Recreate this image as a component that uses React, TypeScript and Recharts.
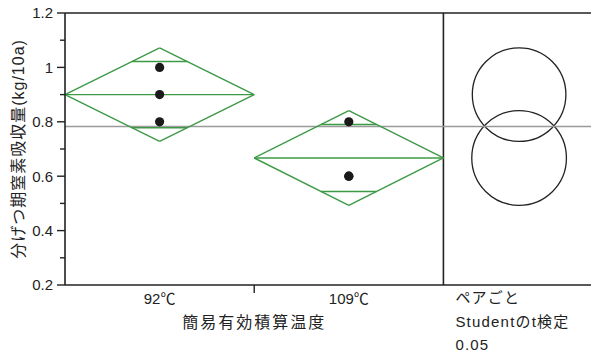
import React from 'react'
import { ComposedChart, XAxis, YAxis, Scatter, ReferenceLine, ReferenceArea } from 'recharts'

const FONT = "'Liberation Sans', 'Noto Sans CJK JP', sans-serif"
const INK = '#222'
const GREEN = '#3c9a46'
const MEAN_GREY = '#9a9a9a'

// groups and their statistics
const groups = ['92℃', '109℃']
const groupMeans = [0.9, 0.667]
const ciHalfWidths = [0.172, 0.174]
const observations = [
  [1.0, 0.9, 0.8],
  [0.8, 0.6, 0.6],
]
const grandMean = 0.783

const yTicks = [0.2, 0.3, 0.4, 0.5, 0.6, 0.7, 0.8, 0.9, 1.0, 1.1, 1.2]
const xTicks = [0.5, 1, 1.5]
const testNotes = ['ペアごと', 'Studentのt検定', '0.05']

// x runs 0..2 for the two groups, the rest is the comparison-circle panel
const X_MAX = 2.78
const CIRCLE_X = 2.4

const points = observations.flatMap((vals, i) => vals.map((v) => ({ x: i + 0.5, y: v })))

function YTick({ x, y, payload }: any) {
  const v = payload.value as number
  const major = Math.round(v * 10) % 2 === 0
  const axisX = x + 12
  return (
    <g>
      <line x1={axisX - (major ? 8 : 5)} x2={axisX} y1={y} y2={y} stroke={INK} strokeWidth={1.4} />
      {major && (
        <text x={x} y={y} dy="0.36em" textAnchor="end" fontSize={15} fill={INK} fontFamily={FONT}>
          {Math.abs(v - 1) < 1e-9 ? '1' : v.toFixed(1)}
        </text>
      )}
    </g>
  )
}

function XTick({ x, y, payload }: any) {
  const v = payload.value as number
  if (Number.isInteger(v)) {
    return <line x1={x} x2={x} y1={y - 11} y2={y - 3} stroke={INK} strokeWidth={1.4} />
  }
  return (
    <text x={x} y={y + 3} dy="0.36em" textAnchor="middle" fontSize={15} fill={INK} fontFamily={FONT}>
      {groups[Math.floor(v)]}
    </text>
  )
}

function XTitle({ viewBox }: any) {
  const { x, y, width } = viewBox
  const unit = width / X_MAX
  return (
    <g fontFamily={FONT} fill={INK}>
      <text x={x + unit} y={y + 37} dy="0.36em" textAnchor="middle" fontSize={16} letterSpacing={2}>
        簡易有効積算温度
      </text>
      {testNotes.map((t, i) => (
        <text key={t} x={x + unit * 2 + 12} y={y + 13 + i * 23.5} dy="0.36em" fontSize={15} letterSpacing={1.2}>
          {t}
        </text>
      ))}
    </g>
  )
}

function YTitle({ viewBox }: any) {
  const { y, height } = viewBox
  const cx = 18
  const cy = y + height / 2
  return (
    <text
      x={cx}
      y={cy}
      dy="0.36em"
      textAnchor="middle"
      transform={`rotate(-90, ${cx}, ${cy})`}
      fontSize={16}
      letterSpacing={1}
      fill={INK}
      fontFamily={FONT}
    >
      分げつ期窒素吸収量(kg/10a)
    </text>
  )
}

function ComparisonCircle({ x, y, width, height }: any) {
  return <circle cx={x + width / 2} cy={y + height / 2} r={height / 2} fill="none" stroke={INK} strokeWidth={1.3} />
}

function Dot({ cx, cy }: any) {
  return <circle cx={cx} cy={cy} r={4.6} fill="#1a1a1a" />
}

// means diamond: CI vertices, mean line and overlap marks at mean ± half/√2
function diamondSegments(i: number) {
  const m = groupMeans[i]
  const h = ciHalfWidths[i]
  const c = i + 0.5
  const o = h / Math.SQRT2
  const w = 0.5 * (1 - o / h)
  return [
    [{ x: i, y: m }, { x: c, y: m + h }],
    [{ x: c, y: m + h }, { x: i + 1, y: m }],
    [{ x: i + 1, y: m }, { x: c, y: m - h }],
    [{ x: c, y: m - h }, { x: i, y: m }],
    [{ x: i, y: m }, { x: i + 1, y: m }],
    [{ x: c - w, y: m + o }, { x: c + w, y: m + o }],
    [{ x: c - w, y: m - o }, { x: c + w, y: m - o }],
  ]
}

export default function App() {
  return (
    <div style={{ position: 'absolute', left: 0, top: 0, background: '#fff' }}>
      <ComposedChart width={591} height={353} margin={{ top: 13, right: 0, bottom: 0, left: 0 }}>
        <XAxis
          type="number"
          dataKey="x"
          domain={[0, X_MAX]}
          ticks={xTicks}
          interval={0}
          allowDataOverflow
          height={68}
          tickSize={8}
          tickMargin={3}
          tickLine={false}
          tick={<XTick />}
          axisLine={{ stroke: INK, strokeWidth: 1.6 }}
          label={<XTitle />}
        />
        <YAxis
          type="number"
          domain={[0.2, 1.2]}
          ticks={yTicks}
          interval={0}
          allowDataOverflow
          width={65}
          tickSize={8}
          tickMargin={4}
          tickLine={false}
          tick={<YTick />}
          axisLine={{ stroke: INK, strokeWidth: 1.6 }}
          label={<YTitle />}
        />
        <ReferenceLine y={1.2} stroke={INK} strokeWidth={1.6} ifOverflow="visible" />
        <ReferenceLine x={2} stroke={INK} strokeWidth={1.6} ifOverflow="visible" />
        <ReferenceLine y={grandMean} stroke={MEAN_GREY} strokeWidth={1.5} ifOverflow="visible" />
        {groups.map((g, i) =>
          diamondSegments(i).map((seg, k) => (
            <ReferenceLine
              key={`${g}-${k}`}
              segment={seg}
              stroke={GREEN}
              strokeWidth={1.4}
              ifOverflow="visible"
            />
          ))
        )}
        {groups.map((g, i) => (
          <ReferenceArea
            key={`circle-${g}`}
            x1={CIRCLE_X - 0.05}
            x2={CIRCLE_X + 0.05}
            y1={groupMeans[i] - ciHalfWidths[i]}
            y2={groupMeans[i] + ciHalfWidths[i]}
            ifOverflow="visible"
            shape={<ComparisonCircle />}
          />
        ))}
        <Scatter data={points} dataKey="y" shape={<Dot />} isAnimationActive={false} />
      </ComposedChart>
    </div>
  )
}
